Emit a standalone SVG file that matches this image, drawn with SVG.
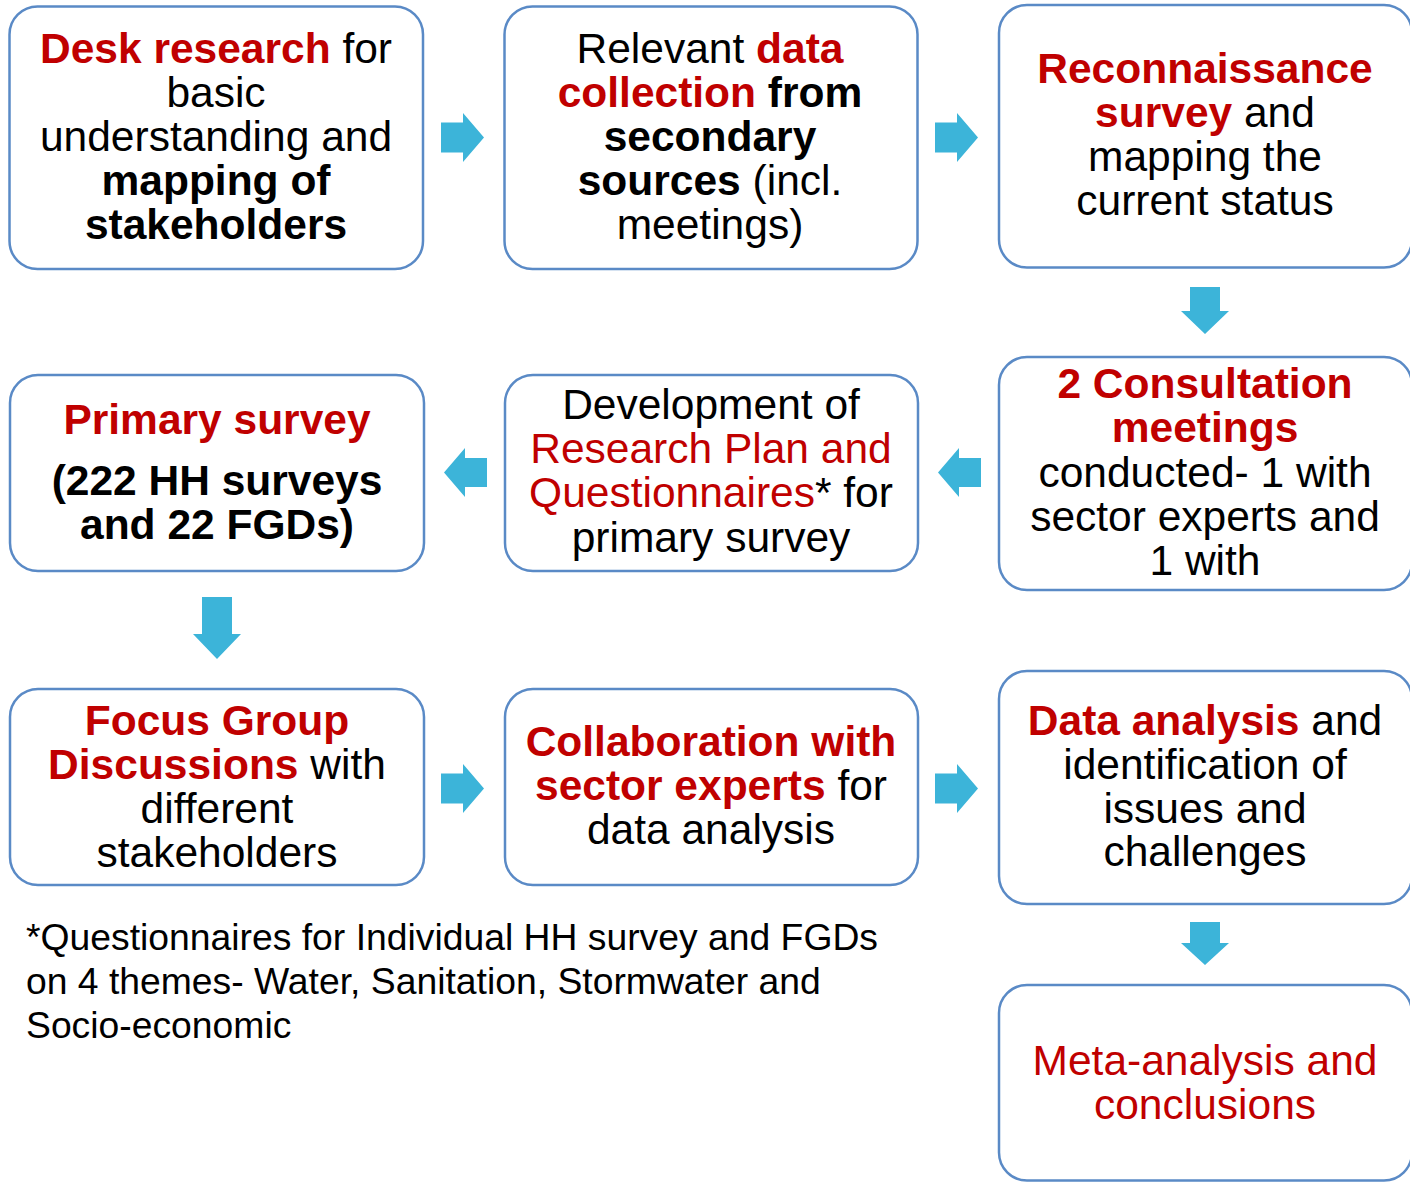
<svg xmlns="http://www.w3.org/2000/svg" width="1410" height="1182" viewBox="0 0 1410 1182">
  <style>
    .box { fill: #ffffff; stroke: #5a8ac6; stroke-width: 2.5; }
    .arrow { fill: #3cb4d9; stroke: none; }
    text { font-family: "Liberation Sans", Arial, sans-serif; font-size: 42.5px; fill: #000000; text-anchor: middle; }
    .b { font-weight: bold; }
    .r { fill: #c00000; }
    .note { font-size: 37.3px; text-anchor: start; }
  </style>
  <rect x="0" y="0" width="1410" height="1182" fill="#ffffff"/>

  <g id="connectors">
    <!-- row 1: left to right -->
    <polygon class="arrow" points="441,122.5 463,122.5 463,113 484,137.5 463,162 463,152.5 441,152.5"/>
    <polygon class="arrow" points="935,122.5 957,122.5 957,113 978,137.5 957,162 957,152.5 935,152.5"/>
    <!-- down to row 2 -->
    <polygon class="arrow" points="1190,287 1220,287 1220,311 1229,311 1205,334 1181,311 1190,311"/>
    <!-- row 2: right to left -->
    <polygon class="arrow" points="981,458 959,458 959,448 938,472.5 959,497 959,487 981,487"/>
    <polygon class="arrow" points="487,458 465,458 465,448 444,472.5 465,497 465,487 487,487"/>
    <!-- down to row 3 -->
    <polygon class="arrow" points="202,597 232,597 232,634 241,634 217,659 193,634 202,634"/>
    <!-- row 3: left to right -->
    <polygon class="arrow" points="441,773.5 463,773.5 463,764 484,788.5 463,813 463,803.5 441,803.5"/>
    <polygon class="arrow" points="935,773.5 957,773.5 957,764 978,788.5 957,813 957,803.5 935,803.5"/>
    <!-- down to final step -->
    <polygon class="arrow" points="1190,922 1220,922 1220,943 1229,943 1205,965 1181,943 1190,943"/>
  </g>

  <g id="desk-research">
    <rect class="box" x="9.5" y="6.5" width="413.5" height="262.5" rx="28"/>
    <text x="216" y="63"><tspan class="b r">Desk research</tspan> for</text>
    <text x="216" y="107">basic</text>
    <text x="216" y="151">understanding and</text>
    <text x="216" y="195" class="b">mapping of</text>
    <text x="216" y="239" class="b">stakeholders</text>
  </g>

  <g id="data-collection">
    <rect class="box" x="504.5" y="6.5" width="413" height="262.5" rx="28"/>
    <text x="710" y="63">Relevant <tspan class="b r">data</tspan></text>
    <text x="710" y="107"><tspan class="b r">collection</tspan> <tspan class="b">from</tspan></text>
    <text x="710" y="151" class="b">secondary</text>
    <text x="710" y="195"><tspan class="b">sources</tspan> (incl.</text>
    <text x="710" y="239">meetings)</text>
  </g>

  <g id="reconnaissance">
    <rect class="box" x="999" y="5" width="413" height="262.5" rx="28"/>
    <text x="1205" y="83" class="b r">Reconnaissance</text>
    <text x="1205" y="127"><tspan class="b r">survey</tspan> and</text>
    <text x="1205" y="171">mapping the</text>
    <text x="1205" y="215">current status</text>
  </g>

  <g id="consultation">
    <rect class="box" x="999" y="357" width="413" height="233" rx="28"/>
    <text x="1205" y="398" class="b r">2 Consultation</text>
    <text x="1205" y="442" class="b r">meetings</text>
    <text x="1205" y="487">conducted- 1 with</text>
    <text x="1205" y="531">sector experts and</text>
    <text x="1205" y="575">1 with</text>
  </g>

  <g id="research-plan">
    <rect class="box" x="505" y="375" width="413" height="196" rx="28"/>
    <text x="711" y="419">Development of</text>
    <text x="711" y="463" class="r">Research Plan and</text>
    <text x="711" y="507"><tspan class="r">Questionnaires</tspan>* for</text>
    <text x="711" y="552">primary survey</text>
  </g>

  <g id="primary-survey">
    <rect class="box" x="10" y="375" width="414" height="196" rx="28"/>
    <text x="217" y="434" class="b r">Primary survey</text>
    <text x="217" y="495" class="b">(222 HH surveys</text>
    <text x="217" y="539" class="b">and 22 FGDs)</text>
  </g>

  <g id="focus-groups">
    <rect class="box" x="10" y="689" width="414" height="196" rx="28"/>
    <text x="217" y="735" class="b r">Focus Group</text>
    <text x="217" y="779"><tspan class="b r">Discussions</tspan> with</text>
    <text x="217" y="823">different</text>
    <text x="217" y="867">stakeholders</text>
  </g>

  <g id="collaboration">
    <rect class="box" x="505" y="689" width="413" height="196" rx="28"/>
    <text x="711" y="756" class="b r">Collaboration with</text>
    <text x="711" y="800"><tspan class="b r">sector experts</tspan> for</text>
    <text x="711" y="844">data analysis</text>
  </g>

  <g id="data-analysis">
    <rect class="box" x="999" y="671" width="413" height="233" rx="28"/>
    <text x="1205" y="735"><tspan class="b r">Data analysis</tspan> and</text>
    <text x="1205" y="779">identification of</text>
    <text x="1205" y="823">issues and</text>
    <text x="1205" y="866">challenges</text>
  </g>

  <g id="meta-analysis">
    <rect class="box" x="999" y="985" width="413" height="195.5" rx="28"/>
    <text x="1205" y="1075" class="r">Meta-analysis and</text>
    <text x="1205" y="1119" class="r">conclusions</text>
  </g>

  <g id="footnote">
    <text x="26" y="950" class="note">*Questionnaires for Individual HH survey and FGDs</text>
    <text x="26" y="994" class="note">on 4 themes- Water, Sanitation, Stormwater and</text>
    <text x="26" y="1038" class="note">Socio-economic</text>
  </g>
</svg>
